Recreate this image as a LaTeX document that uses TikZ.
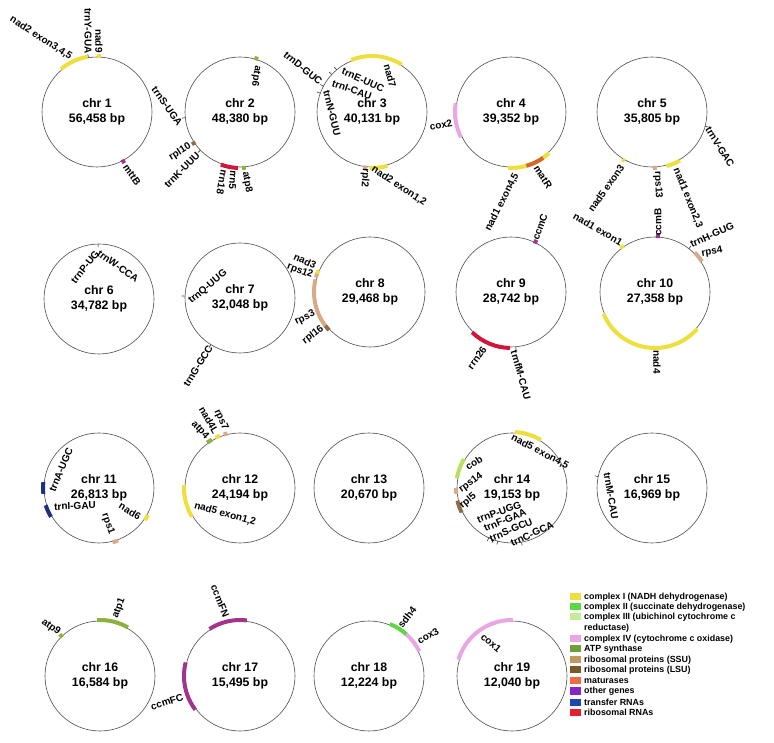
\documentclass[tikz,border=0pt]{standalone}
\usepackage{fontspec}
\setmainfont{Liberation Sans}

% gene colours (legend)
\definecolor{cI}{HTML}{EDDF3C}
\definecolor{cII}{HTML}{5BD843}
\definecolor{cIII}{HTML}{C4EB97}
\definecolor{cIV}{HTML}{EAA6E4}
\definecolor{atpc}{HTML}{6F9E3A}
\definecolor{ssu}{HTML}{BF9A5E}
\definecolor{lsu}{HTML}{7A5A28}
\definecolor{matc}{HTML}{F06A43}
\definecolor{otherc}{HTML}{8A24C6}
\definecolor{trnac}{HTML}{1E45B0}
\definecolor{rrnac}{HTML}{E3202E}
% gene colours (on the maps)
\definecolor{atpm}{HTML}{8DB23F}
\definecolor{ssum}{HTML}{D9A98A}
\definecolor{lsum}{HTML}{8E6E4A}
\definecolor{matm}{HTML}{D2692A}
\definecolor{otherm}{HTML}{A2338F}
\definecolor{trnam}{HTML}{1E2E80}
\definecolor{rrnam}{HTML}{D0163A}
\definecolor{cobm}{HTML}{B8E060}

\tikzset{
  chrom/.style={circle, draw=black!70, line width=0.6pt, minimum size=110pt,
    inner sep=0pt, align=center, font=\bfseries\fontsize{12.3}{15}\selectfont},
  gene/.style={line width=4pt},
  trna/.style={line width=0.6pt, draw=black!80},
  glab/.style={inner sep=0pt, font=\bfseries\fontsize{10}{12}\selectfont},
  legbox/.style={minimum width=11pt, minimum height=7pt, inner sep=0pt},
  legtext/.style={anchor=west, inner sep=0pt, align=left,
    font=\bfseries\fontsize{8.9}{10.5}\selectfont}
}
% gene arc on a chromosome: node, start angle, end angle, colour
\newcommand{\garc}[4]{\draw[gene,#4] (#1.center) ++(#2:56pt) arc[start angle=#2,end angle=#3,radius=56pt];}
% tRNA tick: node, angle
\newcommand{\gtick}[2]{\draw[trna] (#1.center) ++(#2:55pt) -- ++(#2:3.5pt);}

\begin{document}
\begin{tikzpicture}[x=1pt,y=1pt]
  \useasboundingbox (0,0) rectangle (774,742);

  % Chromosomes
  \node[chrom] (chr1)  at (97,630)  {chr 1\\56,458 bp};
  \node[chrom] (chr2)  at (240,630) {chr 2\\48,380 bp};
  \node[chrom] (chr3)  at (372,630) {chr 3\\40,131 bp};
  \node[chrom] (chr4)  at (511,630) {chr 4\\39,352 bp};
  \node[chrom] (chr5)  at (652,630) {chr 5\\35,805 bp};
  \node[chrom] (chr6)  at (99,443)  {chr 6\\34,782 bp};
  \node[chrom] (chr7)  at (240,444) {chr 7\\32,048 bp};
  \node[chrom] (chr8)  at (370,450) {chr 8\\29,468 bp};
  \node[chrom] (chr9)  at (511,450) {chr 9\\28,742 bp};
  \node[chrom] (chr10) at (655,450) {chr 10\\27,358 bp};
  \node[chrom] (chr11) at (99,254)  {chr 11\\26,813 bp};
  \node[chrom] (chr12) at (240,254) {chr 12\\24,194 bp};
  \node[chrom] (chr13) at (369,254) {chr 13\\20,670 bp};
  \node[chrom] (chr14) at (512,254) {chr 14\\19,153 bp};
  \node[chrom] (chr15) at (652,254) {chr 15\\16,969 bp};
  \node[chrom] (chr16) at (100,66)  {chr 16\\16,584 bp};
  \node[chrom] (chr17) at (240,66)  {chr 17\\15,495 bp};
  \node[chrom] (chr18) at (369,66)  {chr 18\\12,224 bp};
  \node[chrom] (chr19) at (512,66)  {chr 19\\12,040 bp};

  % chr 1
  \garc{chr1}{100}{130}{cI} \garc{chr1}{86}{90}{cI} \garc{chr1}{-64}{-60}{otherm}
  \gtick{chr1}{99}
  \node[glab, rotate=-33] (c1nad2) at (41,704) {nad2 exon3,4,5};
  \node[glab, rotate=-90] (c1trnY) at (88,711) {trnY-GUA};
  \node[glab, rotate=-90] (c1nad9) at (99,701) {nad9};
  \node[glab, rotate=-55] (c1mttB) at (132,567) {mttB};

  % chr 2
  \garc{chr2}{71}{75}{atpm} \garc{chr2}{212}{216}{lsum}
  \garc{chr2}{250}{265}{rrnam} \garc{chr2}{265}{268}{rrnam} \garc{chr2}{-88}{-84}{atpm}
  \gtick{chr2}{186} \gtick{chr2}{224}
  \node[glab, rotate=-55] (c2trnS) at (167,636) {trnS-UGA};
  \node[glab, rotate=-100] (c2atp6) at (256,666) {atp6};
  \node[glab, rotate=33] (c2rpl10) at (180,590) {rpl10};
  \node[glab, rotate=45] (c2trnK) at (182,572) {trnK-UUU};
  \node[glab, rotate=-100] (c2rrn18) at (222,560) {rrn18};
  \node[glab, rotate=-95] (c2rrn5) at (233,562) {rrn5};
  \node[glab, rotate=-80] (c2atp8) at (247,560) {atp8};

  % chr 3
  \garc{chr3}{58}{112}{cI} \garc{chr3}{-99}{-95}{ssum} \garc{chr3}{-92}{-74}{cI}
  \gtick{chr3}{152} \gtick{chr3}{130} \gtick{chr3}{137} \gtick{chr3}{160}
  \node[glab, rotate=-39] (c3trnD) at (303,674) {trnD-GUC};
  \node[glab, rotate=-75] (c3nad7) at (390,666) {nad7};
  \node[glab, rotate=-24] (c3trnE) at (363,662) {trnE-UUC};
  \node[glab, rotate=-19] (c3trnI) at (352,652) {trnI-CAU};
  \node[glab, rotate=-76] (c3trnN) at (332,629) {trnN-GUU};
  \node[glab, rotate=-95] (c3rpl2) at (365,564) {rpl2};
  \node[glab, rotate=-34] (c3nad2) at (399,556) {nad2 exon1,2};

  % chr 4
  \garc{chr4}{171}{207}{cIV} \garc{chr4}{-93}{-47}{cI} \garc{chr4}{-74}{-55}{matm}
  \node[glab, rotate=13] (c4cox2) at (441,617) {cox2};
  \node[glab, rotate=63] (c4nad1) at (502,540) {nad1 exon4,5};
  \node[glab, rotate=-57] (c4matR) at (543,565) {matR};

  % chr 5
  \garc{chr5}{-75}{-60}{cI} \garc{chr5}{-89}{-85}{ssum} \garc{chr5}{238}{241}{cI}
  \gtick{chr5}{-15}
  \node[glab, rotate=-58] (c5trnV) at (720,595) {trnV-GAC};
  \node[glab, rotate=-68] (c5nad1) at (688,544) {nad1 exon2,3};
  \node[glab, rotate=-88] (c5rps13) at (658,557) {rps13};
  \node[glab, rotate=55] (c5nad5) at (606,554) {nad5 exon3};

  % chr 6
  \draw[trna] (chr6.center) ++(91:52pt) -- ++(91:3pt);
  \node[glab, rotate=51] (c6trnP) at (85,475) {trnP-UG};
  \node[glab, rotate=-35] (c6trnW) at (118,476) {trnW-CCA};

  % chr 7
  \gtick{chr7}{178} \gtick{chr7}{238}
  \node[glab, rotate=40] (c7trnQ) at (208,455) {trnQ-UUG};
  \node[glab, rotate=58] (c7trnG) at (198,376) {trnG-GCC};

  % chr 8
  \garc{chr8}{157}{161}{cI} \garc{chr8}{161}{165}{ssum}
  \garc{chr8}{167}{217}{ssum} \garc{chr8}{217}{223}{lsum}
  \node[glab, rotate=-25] (c8nad3) at (305,481) {nad3};
  \node[glab, rotate=-20] (c8rps12) at (300,471) {rps12};
  \node[glab, rotate=27] (c8rps3) at (305,424) {rps3};
  \node[glab, rotate=37] (c8rpl16) at (313,407) {rpl16};

  % chr 9
  \garc{chr9}{62}{66}{otherm} \garc{chr9}{226}{269}{rrnam}
  \gtick{chr9}{-85}
  \node[glab, rotate=70] (c9ccmC) at (540,515) {ccmC};
  \node[glab, rotate=54] (c9rrn26) at (477,384) {rrn26};
  \node[glab, rotate=-74] (c9trnfM) at (521,367) {trnfM-CAU};

  % chr 10
  \garc{chr10}{124}{128}{cI} \garc{chr10}{85}{89}{otherm}
  \garc{chr10}{33}{45}{ssum} \garc{chr10}{203}{319}{cI}
  \gtick{chr10}{52}
  \node[glab, rotate=-30] (c10nad1) at (598,513) {nad1 exon1};
  \node[glab, rotate=90] (c10ccmB) at (658,520) {ccmB};
  \node[glab, rotate=24] (c10trnH) at (712,507) {trnH-GUG};
  \node[glab, rotate=10] (c10rps4) at (712,490) {rps4};
  \node[glab, rotate=-90] (c10nad4) at (657,380) {nad4};

  % chr 11
  \garc{chr11}{174}{186}{trnam} \garc{chr11}{198}{211}{trnam}
  \garc{chr11}{-35}{-29}{cI} \garc{chr11}{-76}{-70}{ssum}
  \node[glab, rotate=67] (c11trnA) at (61,272) {trnA-UGC};
  \node[glab, rotate=2] (c11trnI) at (75,236) {trnI-GAU};
  \node[glab, rotate=-32] (c11nad6) at (130,231) {nad6};
  \node[glab, rotate=-70] (c11rps1) at (108,218) {rps1};

  % chr 12
  \garc{chr12}{120}{126}{atpm} \garc{chr12}{111}{116}{cI}
  \garc{chr12}{103}{107}{ssum} \garc{chr12}{177}{211}{cI}
  \node[glab, rotate=-47] (c12atp4) at (200,312) {atp4};
  \node[glab, rotate=-60] (c12nad4L) at (209,322) {nad4L};
  \node[glab, rotate=-65] (c12rps7) at (221,322) {rps7};
  \node[glab, rotate=-16] (c12nad5) at (225,228) {nad5 exon1,2};

  % chr 14
  \garc{chr14}{59}{87}{cI} \garc{chr14}{149}{170}{cobm}
  \garc{chr14}{180}{186}{ssum} \garc{chr14}{193}{206}{lsum}
  \gtick{chr14}{245} \gtick{chr14}{250} \gtick{chr14}{255} \gtick{chr14}{-80}
  \node[glab, rotate=-28] (c14nad5) at (540,290) {nad5 exon4,5};
  \node[glab, rotate=33] (c14cob) at (474,279) {cob};
  \node[glab, rotate=36] (c14rps14) at (471,259) {rps14};
  \node[glab, rotate=40] (c14rpl5) at (468,241) {rpl5};
  \node[glab, rotate=20] (c14trnP) at (499,230) {trnP-UGG};
  \node[glab, rotate=23] (c14trnF) at (505,222) {trnF-GAA};
  \node[glab, rotate=23] (c14trnS) at (511,212) {trnS-GCU};
  \node[glab, rotate=25] (c14trnC) at (532,208) {trnC-GCA};

  % chr 15
  \gtick{chr15}{168}
  \node[glab, rotate=-80] (c15trnM) at (611,246) {trnM-CAU};

  % chr 16
  \garc{chr16}{132}{136}{atpm} \garc{chr16}{60}{93}{atpm}
  \node[glab, rotate=-35] (c16atp9) at (51,115) {atp9};
  \node[glab, rotate=70] (c16atp1) at (119,134) {atp1};

  % chr 17
  \garc{chr17}{83}{123}{otherm} \garc{chr17}{166}{217}{otherm}
  \node[glab, rotate=-68] (c17ccmFN) at (220,141) {ccmFN};
  \node[glab, rotate=18] (c17ccmFC) at (167,40) {ccmFC};

  % chr 18
  \garc{chr18}{48}{68}{cII} \garc{chr18}{26}{48}{cIV}
  \node[glab, rotate=52] (c18sdh4) at (407,125) {sdh4};
  \node[glab, rotate=30] (c18cox3) at (428,106) {cox3};

  % chr 19
  \garc{chr19}{89}{163}{cIV}
  \node[glab, rotate=-40] (c19cox1) at (491,99) {cox1};

  % Legend
  \node[legbox, fill=cI]     (k1)  at (575.5,145) {};
  \node[legbox, fill=cII]    (k2)  at (575.5,135) {};
  \node[legbox, fill=cIII]   (k3)  at (575.5,125) {};
  \node[legbox, fill=cIV]    (k4)  at (575.5,103) {};
  \node[legbox, fill=atpc]   (k5)  at (575.5,93)  {};
  \node[legbox, fill=ssu]    (k6)  at (575.5,82)  {};
  \node[legbox, fill=lsu]    (k7)  at (575.5,72)  {};
  \node[legbox, fill=matc]   (k8)  at (575.5,61)  {};
  \node[legbox, fill=otherc] (k9)  at (575.5,51)  {};
  \node[legbox, fill=trnac]  (k10) at (575.5,40)  {};
  \node[legbox, fill=rrnac]  (k11) at (575.5,30)  {};
  \node[legtext] (t1)  at (584,145)   {complex I (NADH dehydrogenase)};
  \node[legtext] (t2)  at (584,135)   {complex II (succinate dehydrogenase)};
  \node[legtext] (t3)  at (584,119.5) {complex III (ubichinol cytochrome c\\reductase)};
  \node[legtext] (t4)  at (584,103)   {complex IV (cytochrome c oxidase)};
  \node[legtext] (t5)  at (584,93)    {ATP synthase};
  \node[legtext] (t6)  at (584,82)    {ribosomal proteins (SSU)};
  \node[legtext] (t7)  at (584,72)    {ribosomal proteins (LSU)};
  \node[legtext] (t8)  at (584,61)    {maturases};
  \node[legtext] (t9)  at (584,51)    {other genes};
  \node[legtext] (t10) at (584,40)    {transfer RNAs};
  \node[legtext] (t11) at (584,30)    {ribosomal RNAs};
\end{tikzpicture}
\end{document}
